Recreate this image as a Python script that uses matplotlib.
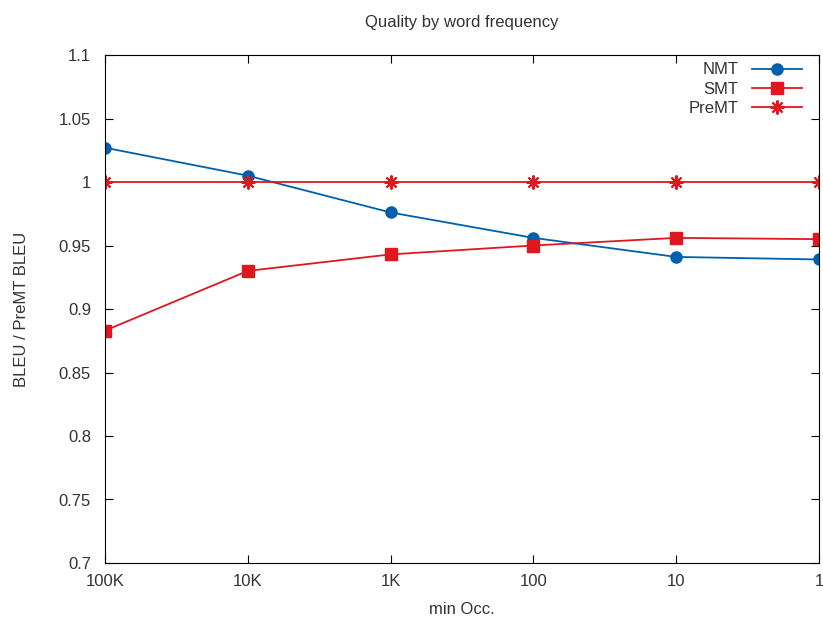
import matplotlib.pyplot as plt

plt.rcParams['font.family'] = ['Liberation Sans', 'DejaVu Sans']

x_labels = ["100K", "10K", "1K", "100", "10", "1"]
nmt = [1.027, 1.005, 0.976, 0.956, 0.941, 0.939]
smt = [0.883, 0.930, 0.943, 0.950, 0.956, 0.955]
premt = [1.0, 1.0, 1.0, 1.0, 1.0, 1.0]

y_ticks = [0.7, 0.75, 0.8, 0.85, 0.9, 0.95, 1.0, 1.05, 1.1]
y_tick_labels = ["0.7", "0.75", "0.8", "0.85", "0.9", "0.95", "1", "1.05", "1.1"]

text_color = "#333333"
blue = "#0060ad"
red = "#dd181f"
fs = 12

fig = plt.figure(figsize=(8.23, 6.21), dpi=100)
ax = fig.add_axes([105 / 823, 58 / 621, 714 / 823, 508 / 621])

xs = list(range(len(x_labels)))
ax.plot(xs, nmt, color=blue, lw=1.3, marker="o", markersize=8, label="NMT")
ax.plot(xs, smt, color=red, lw=1.3, marker="s", markersize=8.5, label="SMT")
ax.plot(xs, premt, color=red, lw=1.3, marker=(8, 2, 0), markersize=10,
        markeredgewidth=1.5, label="PreMT")

ax.set_xlim(0, 5)
ax.set_ylim(0.7, 1.1)
ax.set_xticks(xs)
ax.set_xticklabels(x_labels)
ax.set_yticks(y_ticks)
ax.set_yticklabels(y_tick_labels)
ax.tick_params(direction="in", top=True, right=True, length=6, width=0.8,
               labelsize=fs, labelcolor=text_color)
ax.tick_params(axis="y", pad=10)
ax.tick_params(axis="x", pad=8)
for s in ax.spines.values():
    s.set_linewidth(0.8)

ax.set_title("Quality by word frequency", fontsize=fs, color=text_color, pad=20)
ax.set_xlabel("min Occ.", fontsize=fs, color=text_color, labelpad=9)
ax.set_ylabel("BLEU / PreMT BLEU", fontsize=fs, color=text_color)
ax.yaxis.set_label_coords(-0.107, 0.5)

leg = ax.legend(loc="upper right", frameon=False, markerfirst=False,
                fontsize=fs, handlelength=3.0, labelspacing=0.25,
                borderaxespad=0.2, handletextpad=0.8,
                bbox_to_anchor=(0.99, 1.005))
for t in leg.get_texts():
    t.set_color(text_color)

fig.savefig("out.png", dpi=100)
